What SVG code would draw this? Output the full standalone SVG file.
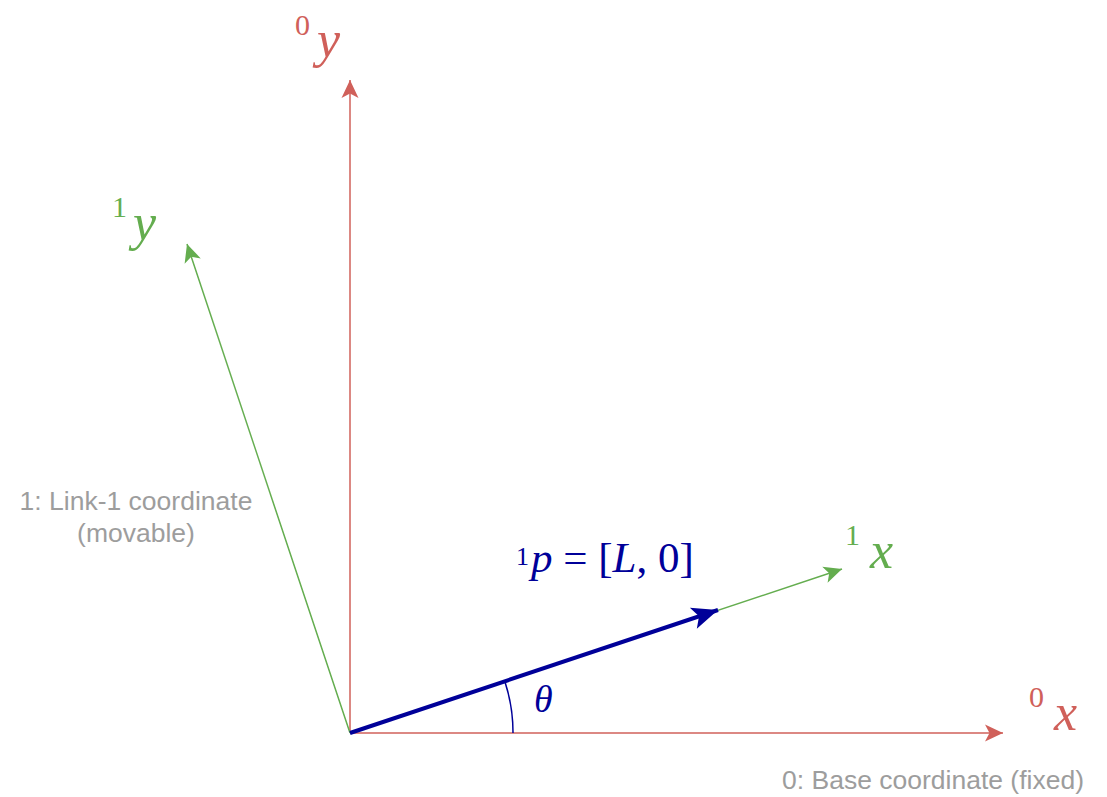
<svg xmlns="http://www.w3.org/2000/svg" width="1107" height="797" viewBox="0 0 1107 797">
<style>
.red{stroke:#d0605a;stroke-width:1.5;fill:none}
.green{stroke:#64ad4f;stroke-width:1.5;fill:none}
.blue{stroke:#000099;stroke-width:4;fill:none}
.math{font-family:"Liberation Serif","DejaVu Serif",serif}
.it{font-style:italic}
.sup{font-size:30px}
.main{font-size:52px;font-style:italic}
.gray{font-family:"Liberation Sans",Arial,sans-serif;font-size:26.5px;fill:#9d9d9d}
</style>
<defs>
<marker id="mr" markerUnits="userSpaceOnUse" markerWidth="22" markerHeight="22" viewBox="0 0 22 22" refX="20" refY="11" orient="auto">
<path d="M2,2.5 L20,11 L2,19.5 L6.5,11 z" fill="#d0605a"/>
</marker>
<marker id="mg" markerUnits="userSpaceOnUse" markerWidth="22" markerHeight="22" viewBox="0 0 22 22" refX="20" refY="11" orient="auto">
<path d="M2,2.5 L20,11 L2,19.5 L6.5,11 z" fill="#64ad4f"/>
</marker>
<marker id="mb" markerUnits="userSpaceOnUse" markerWidth="30" markerHeight="30" viewBox="0 0 30 30" refX="28" refY="15" orient="auto">
<path d="M2,4 L28,15 L2,26 L8,15 z" fill="#000099"/>
</marker>
</defs>
<g id="connectors">
<line class="red" x1="350" y1="733" x2="1003" y2="733" marker-end="url(#mr)"/>
<line class="red" x1="350" y1="733" x2="350" y2="80" marker-end="url(#mr)"/>
<line class="green" x1="350" y1="733" x2="842" y2="569" marker-end="url(#mg)"/>
<line class="green" x1="350" y1="733" x2="187" y2="244" marker-end="url(#mg)"/>
<line class="blue" x1="350" y1="733" x2="718" y2="610" marker-end="url(#mb)"/>
<path d="M513,733 A163,163 0 0 0 505,682" stroke="#000099" stroke-width="1.5" fill="none"/>
</g>
<g id="label-0y" class="math" fill="#d0605a">
<text x="295" y="35" class="sup">0</text>
<text x="317" y="57" class="main">y</text>
</g>
<g id="label-1y" class="math" fill="#64ad4f">
<text x="112" y="217" class="sup">1</text>
<text x="133" y="240" class="main">y</text>
</g>
<g id="label-1x" class="math" fill="#64ad4f">
<text x="845" y="545" class="sup">1</text>
<text x="870" y="568" class="main">x</text>
</g>
<g id="label-0x" class="math" fill="#d0605a">
<text x="1029" y="707" class="sup">0</text>
<text x="1054" y="730" class="main">x</text>
</g>
<g id="label-p" class="math" fill="#000099">
<text x="516" y="565" font-size="26">1</text>
<text x="531" y="572" font-size="43"><tspan class="it">p</tspan> = [<tspan class="it">L</tspan>, 0]</text>
</g>
<g id="label-theta" class="math" fill="#000099">
<text x="534" y="712" font-size="38" class="it">θ</text>
</g>
<g id="label-link1">
<text class="gray" x="136" y="510" text-anchor="middle">1: Link-1 coordinate</text>
<text class="gray" x="136" y="542" text-anchor="middle">(movable)</text>
</g>
<g id="label-base">
<text class="gray" x="933" y="789" text-anchor="middle">0: Base coordinate (fixed)</text>
</g>
</svg>
